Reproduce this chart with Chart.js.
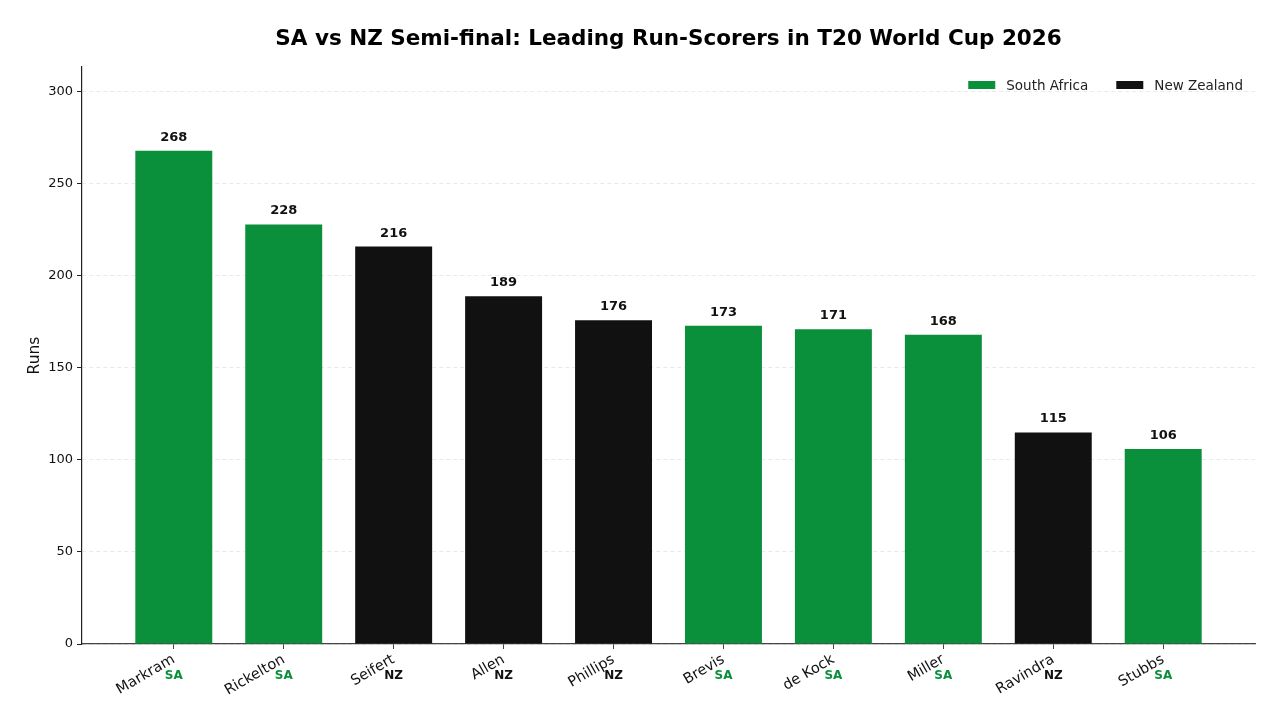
<!DOCTYPE html>
<html>
<head>
<meta charset="utf-8">
<script src="https://cdn.jsdelivr.net/npm/chart.js@4.4.1/dist/chart.umd.min.js"></script>
<style>
  html, body { margin: 0; padding: 0; background: #fff; }
  #wrap { width: 1274px; height: 706px; }
</style>
</head>
<body>
<div id="wrap"><canvas id="myChart"></canvas></div>
<script>
// Data points
const players = ['Markram', 'Rickelton', 'Seifert', 'Allen', 'Phillips', 'Brevis', 'de Kock', 'Miller', 'Ravindra', 'Stubbs'];
const runs = [268, 228, 216, 189, 176, 173, 171, 168, 115, 106];
const teams = ['SA', 'SA', 'NZ', 'NZ', 'NZ', 'SA', 'SA', 'SA', 'NZ', 'SA'];
const yTicks = [0, 50, 100, 150, 200, 250, 300];
const chartTitle = 'SA vs NZ Semi-final: Leading Run-Scorers in T20 World Cup 2026';

const GREEN = '#0a8f3b';
const BLACK = '#111111';
const FONT = "'DejaVu Sans', sans-serif";

// one dataset per team so the legend has both
function pointsFor(team) {
  const pts = [];
  for (let i = 0; i < players.length; i++) {
    if (teams[i] === team) pts.push({ x: i, y: runs[i] });
  }
  return pts;
}

const chartData = {
  datasets: [
    { label: 'South Africa', data: pointsFor('SA'), backgroundColor: GREEN },
    { label: 'New Zealand', data: pointsFor('NZ'), backgroundColor: BLACK }
  ]
};

// title over the plot, value labels, team tags under the names, legend inside the plot
const extras = {
  id: 'extras',
  afterDatasetsDraw(chart) {
    const ctx = chart.ctx;
    ctx.save();
    ctx.font = 'bold 13px ' + FONT;
    ctx.fillStyle = '#111';
    ctx.textAlign = 'center';
    ctx.textBaseline = 'alphabetic';
    chart.data.datasets.forEach((ds, di) => {
      chart.getDatasetMeta(di).data.forEach((bar, j) => {
        ctx.fillText(ds.data[j].y, bar.x, bar.y - 10);
      });
    });
    ctx.restore();
  },
  afterDraw(chart) {
    const ctx = chart.ctx;
    const xs = chart.scales.x;
    const area = chart.chartArea;
    ctx.save();
    // title
    ctx.font = 'bold 21.5px ' + FONT;
    ctx.fillStyle = '#000';
    ctx.textAlign = 'center';
    ctx.textBaseline = 'middle';
    ctx.fillText(chartTitle, (area.left + area.right) / 2, 39);
    // team tags
    ctx.font = 'bold 12px ' + FONT;
    for (let i = 0; i < players.length; i++) {
      ctx.fillStyle = teams[i] === 'SA' ? GREEN : BLACK;
      ctx.fillText(teams[i], xs.getPixelForValue(i), area.bottom + 32);
    }
    // legend
    ctx.font = '13.5px ' + FONT;
    ctx.textAlign = 'left';
    const items = chart.data.datasets.map(ds => ({ label: ds.label, color: ds.backgroundColor, w: ctx.measureText(ds.label).width }));
    let total = 0;
    items.forEach((it, k) => { total += 27 + 11 + it.w + (k ? 28 : 0); });
    let x = area.right - 12 - total;
    const y = area.top + 18;
    items.forEach((it, k) => {
      if (k) x += 28;
      ctx.fillStyle = it.color;
      ctx.fillRect(x, y - 4, 27, 8);
      x += 38;
      ctx.fillStyle = '#222';
      ctx.fillText(it.label, x, y + 1);
      x += it.w;
    });
    ctx.restore();
  }
};

const options = {
  responsive: true,
  maintainAspectRatio: false,
  animation: false,
  layout: { padding: { left: 0, right: 19, top: 67, bottom: 0 } },
  datasets: {
    bar: { barPercentage: 0.7, categoryPercentage: 1, grouped: false }
  },
  plugins: {
    legend: { display: false },
    tooltip: { enabled: false },
    title: { display: false }
  },
  scales: {
    x: {
      type: 'linear',
      offset: false,
      min: -0.835,
      max: players.length - 1 + 0.835,
      afterBuildTicks: scale => { scale.ticks = players.map((p, i) => ({ value: i })); },
      afterFit: scale => { scale.height = 62; },
      grid: { display: true, offset: false, drawOnChartArea: false, drawTicks: true, tickLength: 5, tickColor: '#444' },
      border: { display: true, color: '#444', width: 1.2 },
      ticks: {
        autoSkip: false,
        minRotation: 30,
        maxRotation: 30,
        padding: 2,
        color: '#111',
        font: { family: FONT, size: 14.5 },
        callback: v => players[v]
      }
    },
    y: {
      min: 0,
      max: Math.max(...runs) * 1.17,
      z: 1,
      afterBuildTicks: scale => { scale.ticks = yTicks.map(v => ({ value: v })); },
      afterFit: scale => { scale.width = 82; },
      grid: { color: 'rgba(160,160,160,0.22)', lineWidth: 1, drawTicks: true, tickLength: 5, tickColor: '#222', tickBorderDash: [] },
      border: { display: true, color: '#222', width: 1.2, dash: [4, 3] },
      ticks: { padding: 4, color: '#111', font: { family: FONT, size: 13 } },
      title: {
        display: true,
        text: 'Runs',
        color: '#111',
        font: { family: FONT, size: 15.5 },
        padding: { top: 26, bottom: 0 }
      }
    }
  }
};

// Render the chart
const ctx = document.getElementById('myChart').getContext('2d');
const myChart = new Chart(ctx, {
  type: 'bar',
  data: chartData,
  options: options,
  plugins: [extras]
});
</script>
</body>
</html>
